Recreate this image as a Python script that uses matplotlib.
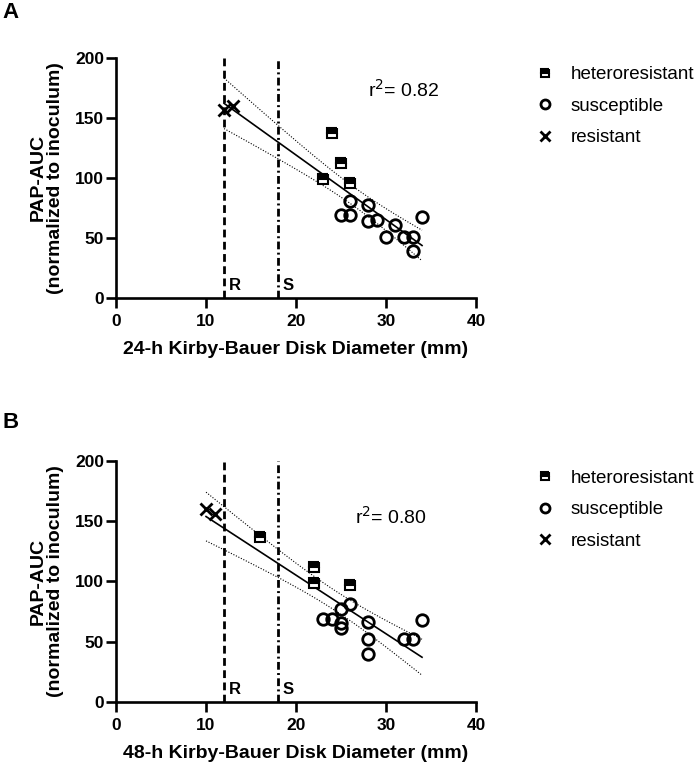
import numpy as np
import matplotlib
matplotlib.use('Agg')
import matplotlib.pyplot as plt
from matplotlib.lines import Line2D

plt.rcParams['font.family'] = ['Liberation Sans', 'DejaVu Sans']

# Panel A: 24-h disk diameters (mm) and PAP-AUC
a_het_x = [24, 25, 23, 26]
a_het_y = [137, 112, 99, 96]
a_sus_x = [26, 25, 26, 28, 28, 29, 30, 31, 32, 33, 33, 34]
a_sus_y = [81, 69, 69, 77, 64, 65, 51, 61, 51, 51, 39, 67]
a_res_x = [12, 13]
a_res_y = [156, 160]

# Panel B: 48-h disk diameters (mm) and PAP-AUC
b_het_x = [16, 22, 22, 26]
b_het_y = [137, 112, 99, 97]
b_sus_x = [26, 25, 23, 24, 25, 25, 28, 28, 28, 32, 33, 34]
b_sus_y = [81, 77, 69, 69, 65, 61, 66, 52, 40, 52, 52, 68]
b_res_x = [10, 11]
b_res_y = [160, 156]

r2_labels = ['0.82', '0.80']
xlabels = ['24-h Kirby-Bauer Disk Diameter (mm)', '48-h Kirby-Bauer Disk Diameter (mm)']
breakpoint_r = 12
breakpoint_s = 18
T_975_DF16 = 2.120

fig = plt.figure(figsize=(6.99, 7.64), dpi=100)
axA = fig.add_axes([0.166, 0.6103, 0.515, 0.3142])
axB = fig.add_axes([0.166, 0.0815, 0.515, 0.3151])


def draw_panel(ax, hx, hy, sx, sy, rx, ry, r2, xlabel, r2_pos):
    ax.plot(hx, hy, linestyle='none', marker='s', markersize=7, fillstyle='top',
            markerfacecolor='black', markerfacecoloralt='white', markeredgecolor='black',
            markeredgewidth=1.5, zorder=5)
    ax.plot(sx, sy, linestyle='none', marker='o', markersize=8.3, markerfacecolor='none',
            markeredgecolor='black', markeredgewidth=2, zorder=5)
    ax.plot(rx, ry, linestyle='none', marker='x', markersize=8, markeredgecolor='black',
            markeredgewidth=2, zorder=5)

    # linear regression with 95% confidence band
    x = np.array(hx + sx + rx, dtype=float)
    y = np.array(hy + sy + ry, dtype=float)
    slope, icpt = np.polyfit(x, y, 1)
    n = len(x)
    resid = y - (slope * x + icpt)
    s = np.sqrt(np.sum(resid ** 2) / (n - 2))
    sxx = np.sum((x - x.mean()) ** 2)
    xf = np.linspace(x.min(), x.max(), 100)
    yf = slope * xf + icpt
    band = T_975_DF16 * s * np.sqrt(1 / n + (xf - x.mean()) ** 2 / sxx)
    ax.plot(xf, yf, color='black', linewidth=1.2, zorder=4)
    ax.plot(xf, yf + band, color='black', linewidth=0.8, linestyle=(0, (1, 1.5)), zorder=4)
    ax.plot(xf, yf - band, color='black', linewidth=0.8, linestyle=(0, (1, 1.5)), zorder=4)

    # breakpoints
    ax.plot([breakpoint_r, breakpoint_r], [0, 200], color='black', linewidth=2,
            linestyle=(0, (2.8, 1.6)), zorder=3)
    ax.plot([breakpoint_s, breakpoint_s], [0, 200], color='black', linewidth=2,
            linestyle=(0, (2.8, 1.2, 0.7, 1.2)), zorder=3)
    ax.text(breakpoint_r + 0.55, 10.5, 'R', fontsize=12, fontweight='bold', va='center')
    ax.text(breakpoint_s + 0.55, 10.5, 'S', fontsize=12, fontweight='bold', va='center')

    ax.text(r2_pos[0], r2_pos[1], 'r$^2$= ' + r2, fontsize=14, va='center')

    ax.set_xlim(0, 40)
    ax.set_ylim(0, 200)
    ax.set_xticks([0, 10, 20, 30, 40])
    ax.set_yticks([0, 50, 100, 150, 200])
    for sp in ['top', 'right']:
        ax.spines[sp].set_visible(False)
    for sp in ['left', 'bottom']:
        ax.spines[sp].set_linewidth(1.9)
    ax.tick_params(direction='out', length=7, width=1.9, labelsize=12.5)
    ax.tick_params(axis='x', pad=5)
    ax.tick_params(axis='y', pad=1.5)
    for lab in ax.get_xticklabels() + ax.get_yticklabels():
        lab.set_fontweight('bold')
    ax.set_xlabel(xlabel, fontsize=14, fontweight='bold', labelpad=8)
    ax.set_ylabel('PAP-AUC\n(normalized to inoculum)', fontsize=14, fontweight='bold',
                  labelpad=8, linespacing=1.05)

    handles = [
        Line2D([], [], linestyle='none', marker='s', markersize=6, fillstyle='top',
               markerfacecolor='black', markerfacecoloralt='white', markeredgecolor='black',
               markeredgewidth=1.5),
        Line2D([], [], linestyle='none', marker='o', markersize=6.5, markerfacecolor='none',
               markeredgecolor='black', markeredgewidth=2),
        Line2D([], [], linestyle='none', marker='x', markersize=6.5, markeredgecolor='black',
               markeredgewidth=2),
    ]
    ax.legend(handles, ['heteroresistant', 'susceptible', 'resistant'], loc='upper left',
              bbox_to_anchor=(1.139, 0.965), frameon=False, fontsize=13.5, labelspacing=0.77,
              handletextpad=0.39, borderaxespad=0, borderpad=0)


draw_panel(axA, a_het_x, a_het_y, a_sus_x, a_sus_y, a_res_x, a_res_y,
           r2_labels[0], xlabels[0], (28, 173))
draw_panel(axB, b_het_x, b_het_y, b_sus_x, b_sus_y, b_res_x, b_res_y,
           r2_labels[1], xlabels[1], (26.6, 154))

fig.text(0.003, 0.997, 'A', fontsize=16, fontweight='bold', va='top')
fig.text(0.003, 0.461, 'B', fontsize=16, fontweight='bold', va='top')

plt.savefig('out.png', dpi=100)
plt.close()
